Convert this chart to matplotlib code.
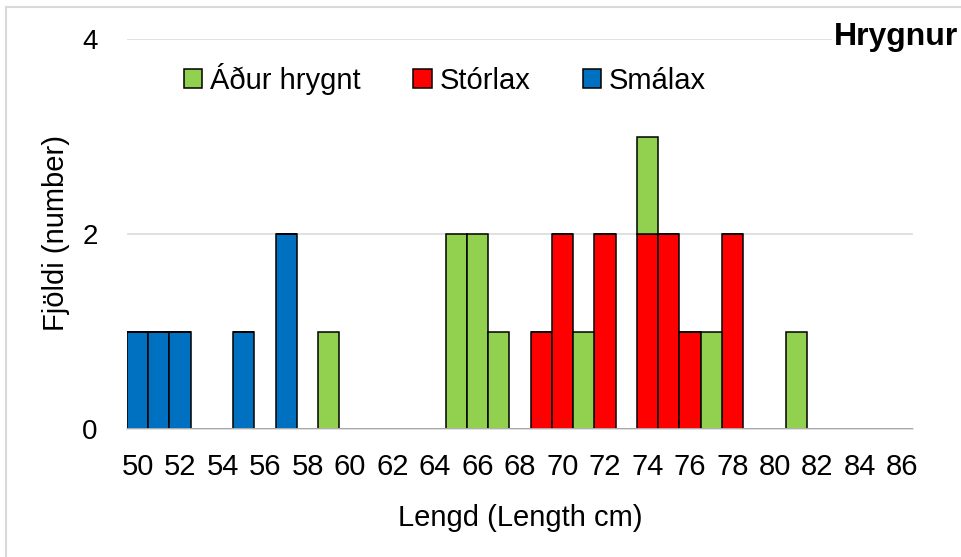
import matplotlib
import numpy as np

matplotlib.use("Agg")
import matplotlib.pyplot as plt
from matplotlib.lines import Line2D
from matplotlib.patches import Patch

plt.rcParams["font.family"] = ["Liberation Sans", "DejaVu Sans"]

# lengths in cm, one category per cm
lengths = list(range(50, 87))

# counts per length (only non-zero entries listed)
smalax_counts = {50: 1, 51: 1, 52: 1, 55: 1, 57: 2}
storlax_counts = {69: 1, 70: 2, 72: 2, 74: 2, 75: 2, 76: 1, 78: 2}
adur_hrygnt_counts = {59: 1, 65: 2, 66: 2, 67: 1, 71: 1, 74: 1, 77: 1, 81: 1}

series_labels = ["Áður hrygnt", "Stórlax", "Smálax"]
series_colors = ["#92D050", "#FF0000", "#0070C0"]

smalax = np.array([smalax_counts.get(v, 0) for v in lengths])
storlax = np.array([storlax_counts.get(v, 0) for v in lengths])
adur = np.array([adur_hrygnt_counts.get(v, 0) for v in lengths])

W, H = 962, 557
fig = plt.figure(figsize=(W / 100, H / 100), dpi=100)
ax = fig.add_axes([127 / W, 1 - 429 / H, (913 - 127) / W, (429 - 39) / H])

x = np.arange(len(lengths))
bar_kw = dict(width=1.0, edgecolor="black", linewidth=1.1, zorder=3)
ax.bar(x, smalax, color=series_colors[2], **bar_kw)
ax.bar(x, storlax, bottom=smalax, color=series_colors[1], **bar_kw)
ax.bar(x, adur, bottom=smalax + storlax, color=series_colors[0], **bar_kw)

ax.set_xlim(-0.5, len(lengths) - 0.5)
ax.set_ylim(0, 4)
ax.set_yticks([0, 2, 4])
ax.set_xticks(x[::2])
ax.set_xticklabels([str(v) for v in lengths[::2]])
ax.tick_params(axis="x", length=0, pad=17, labelsize=21)
ax.tick_params(axis="y", length=0, pad=21, labelsize=20)
ax.grid(axis="y", color="#D9D9D9", linewidth=1.1, zorder=0)
for side in ["left", "right", "top"]:
    ax.spines[side].set_visible(False)
ax.spines["bottom"].set_color("#D9D9D9")
ax.spines["bottom"].set_linewidth(1.1)
ax.spines["bottom"].set_zorder(4)

fig.text(520 / W, 1 - 526 / H, "Lengd (Length cm)", ha="center", va="baseline", fontsize=21)
fig.text(56 / W, 1 - 233 / H, "Fjöldi (number)", ha="center", va="center",
         rotation=90, fontsize=21)
fig.text(958 / W, 1 - 45 / H, "Hrygnur", ha="right", va="baseline", fontsize=23,
         fontweight="bold", zorder=10,
         bbox=dict(facecolor="white", edgecolor="none", pad=1))

handles = [Patch(facecolor=c, edgecolor="black", linewidth=1.1) for c in series_colors]
fig.legend(handles, series_labels, loc="center", bbox_to_anchor=(445 / W, 1 - 79 / H),
           ncol=3, frameon=False, fontsize=21, handlelength=0.63, handleheight=0.63,
           handletextpad=0.27, columnspacing=1.8, borderaxespad=0)

# chart border (left and top edges visible)
fig.add_artist(Line2D([6 / W, 6 / W], [0, 1 - 7 / H], color="#D9D9D9", linewidth=1.5))
fig.add_artist(Line2D([6 / W, 1], [1 - 7 / H, 1 - 7 / H], color="#D9D9D9", linewidth=1.5))

fig.savefig("out.png", dpi=100)
